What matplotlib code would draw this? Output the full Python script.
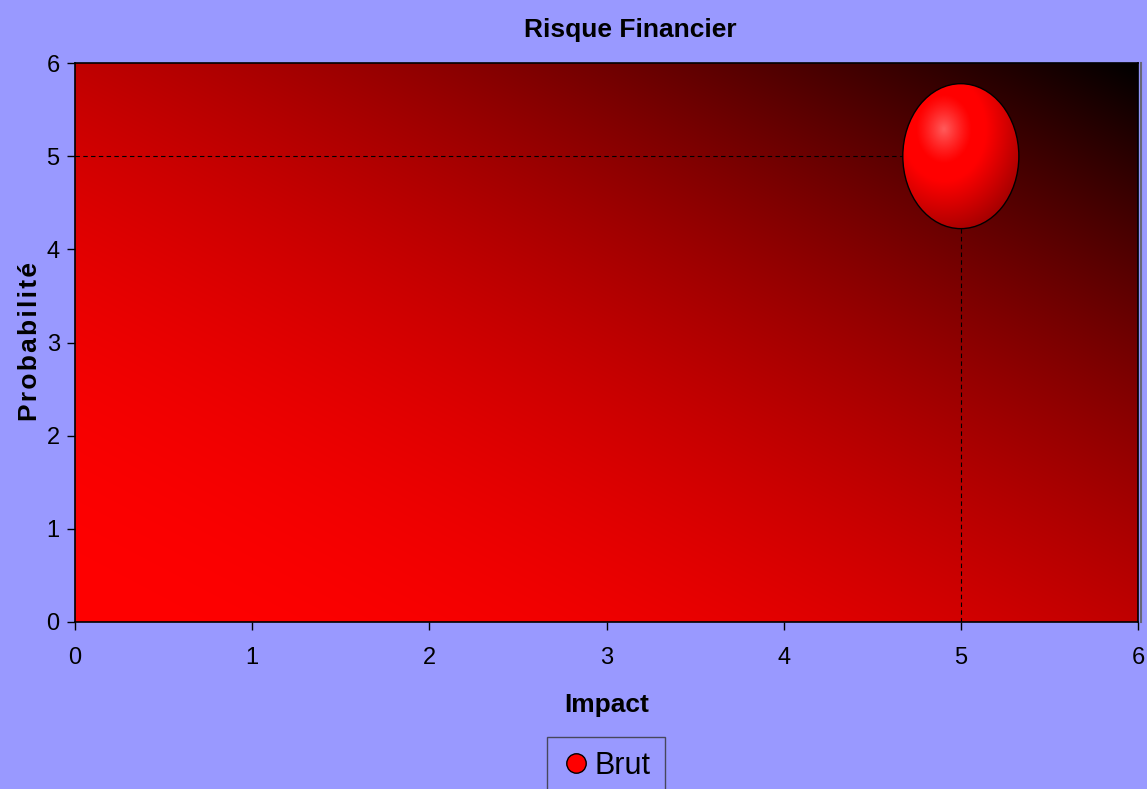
import numpy as np
import matplotlib
matplotlib.use("Agg")
import matplotlib.pyplot as plt
from matplotlib.patches import Ellipse
from matplotlib.lines import Line2D

FONT = ['Liberation Sans', 'DejaVu Sans']
plt.rcParams['font.family'] = FONT

# Data
series_name = "Brut"
impact = [5]
probabilite = [5]
x_ticks = [0, 1, 2, 3, 4, 5, 6]
y_ticks = [0, 1, 2, 3, 4, 5, 6]
title = "Risque Financier"
xlabel = "Impact"
ylabel = "Probabilité"

BG = "#9999ff"
fig = plt.figure(figsize=(11.47, 7.89), dpi=100, facecolor=BG)
ax = fig.add_axes([75/1147, 1-622/789, (1138-75)/1147, (622-63)/789])
ax.set_xlim(0, 6)
ax.set_ylim(0, 6)

# diagonal gradient background
n = 400
gx, gy = np.meshgrid(np.linspace(0, 1, n), np.linspace(0, 1, n))
t = (gx + gy) / 2.0
r = 1.0 - t ** 2.0
img = np.zeros((n, n, 3))
img[..., 0] = np.clip(r, 0, 1)
ax.imshow(img, extent=[0, 6, 0, 6], origin='lower', aspect='auto', zorder=0,
          interpolation='bilinear')

# drop lines
for xv, yv in zip(impact, probabilite):
    ax.plot([0, xv], [yv, yv], color='black', lw=0.8, ls=(0, (4, 3)), zorder=1)
    ax.plot([xv, xv], [0, yv], color='black', lw=0.8, ls=(0, (4, 3)), zorder=1)

# bubble with radial gradient
bw, bh = 0.655, 1.556
for xv, yv in zip(impact, probabilite):
    ell = Ellipse((xv, yv), bw, bh, facecolor='none', edgecolor='black', lw=1.0, zorder=3)
    ax.add_patch(ell)
    m = 300
    ux, uy = np.meshgrid(np.linspace(-1, 1, m), np.linspace(-1, 1, m))
    hx, hy = -0.3, 0.38
    d = np.sqrt((ux - hx) ** 2 + (uy - hy) ** 2) / 1.6
    d = np.clip(d, 0, 1)
    R = np.where(d < 0.45, 1.0, 1.0 - (d - 0.45) / 0.55 * 0.42)
    G = np.where(d < 0.3, 0.36 * (1 - d / 0.3) ** 1.2, 0.0)
    B = G.copy()
    bimg = np.dstack([R, G, B])
    im = ax.imshow(bimg, extent=[xv - bw/2, xv + bw/2, yv - bh/2, yv + bh/2],
                   origin='lower', aspect='auto', zorder=2, interpolation='bilinear')
    clip = Ellipse((xv, yv), bw, bh, transform=ax.transData)
    im.set_clip_path(clip)

ax.set_xlim(0, 6)
ax.set_ylim(0, 6)
ax.set_xticks(x_ticks)
ax.set_yticks(y_ticks)
ax.tick_params(direction='out', length=6, width=1, labelsize=17, colors='black')
ax.tick_params(axis='x', pad=12)
ax.tick_params(axis='y', pad=5)
for s in ax.spines.values():
    s.set_color('black')
    s.set_linewidth(1.2)
# slight grey shadow on right edge
ax.plot([1.0025, 1.0025], [0, 1], transform=ax.transAxes, color='#666677',
        lw=1.5, clip_on=False, zorder=5)

ax.set_title(title, fontsize=19, fontweight='bold', pad=19, x=(630-75)/1063)
ax.set_xlabel(xlabel, fontsize=19, fontweight='bold', labelpad=17)
fig.text(30/1147, 1-342/789, "\u200a".join(ylabel), rotation=90, fontsize=19,
         fontweight='bold', ha='center', va='center', family=FONT)

handle = Line2D([], [], marker='o', color='none', markerfacecolor='red',
                markeredgecolor='black', markersize=14)
leg = fig.legend([handle], [series_name], loc='upper center',
                 bbox_to_anchor=(606/1147, 1-737/789), fontsize=22,
                 frameon=True, fancybox=False, edgecolor='#333333',
                 facecolor=BG, handletextpad=0.1, borderpad=0.45, handlelength=1.0,
                 borderaxespad=0)
leg.get_frame().set_linewidth(1.0)

fig.savefig("out.png", dpi=100, facecolor=BG)
